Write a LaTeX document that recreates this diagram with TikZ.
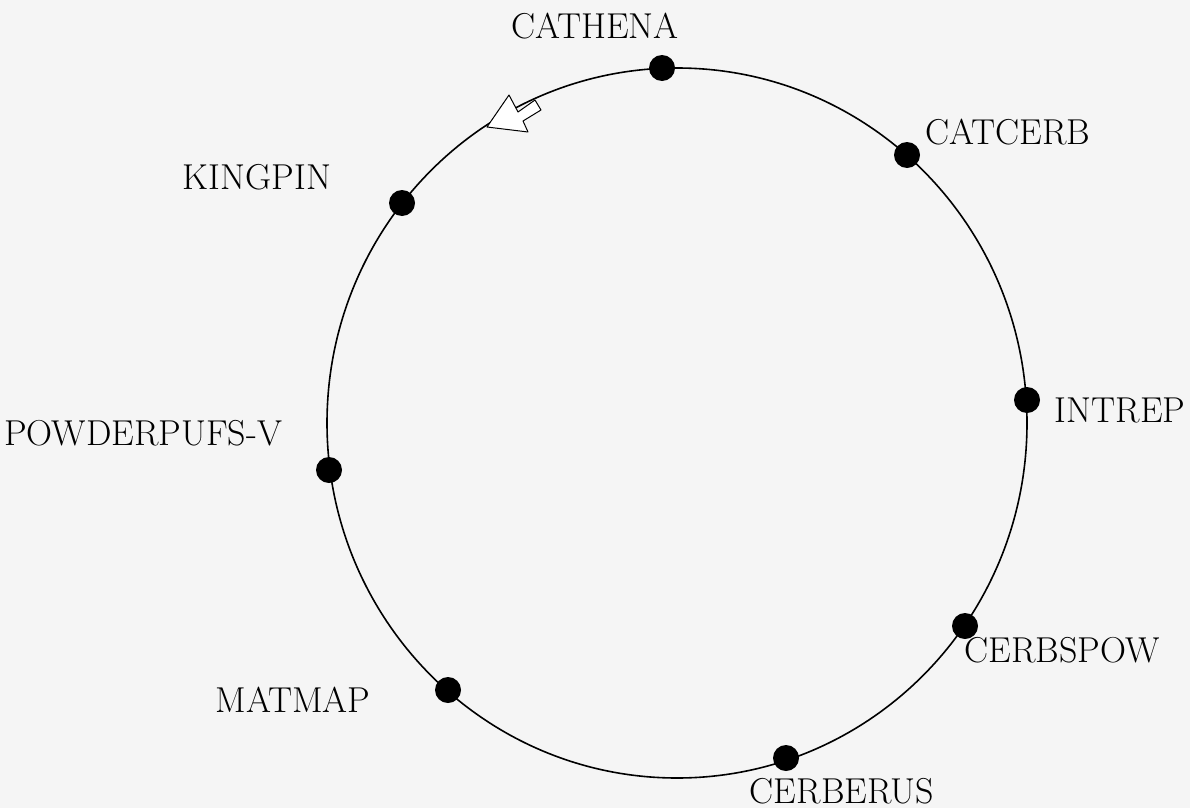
\documentclass[tikz,border=0pt]{standalone}
\usepackage{tikz}
\usetikzlibrary{positioning}
\definecolor{paper}{RGB}{245,245,245}

\begin{document}
\begin{tikzpicture}[x=1pt,y=-1pt,
  every node/.style={font=\fontsize{36}{42}\selectfont},
  host/.style={circle,fill=black,inner sep=0pt,minimum size=26pt}]
\useasboundingbox[fill=paper] (0,0) rectangle (1190,808);
% the ring
\draw[line width=1.6pt] (677,423) ellipse [x radius=350pt, y radius=355pt];
% machines on the ring
\foreach \n/\x/\y in {cathena/662/68,catcerb/907/155,intrep/1027/400,cerbspow/965/626,
  cerberus/786/758,matmap/448/690,powder/329/470,kingpin/402/203}{
  \node[host] (\n) at (\x,\y) {};
}
% names
\node (lcathena) at (595,26) {CATHENA};
\node (lcatcerb) at (1008,132) {CATCERB};
\node (lintrep) at (1120,410) {INTREP};
\node (lcerbspow) at (1062,650) {CERBSPOW};
\node (lcerberus) at (842,791) {CERBERUS};
\node (lmatmap) at (293,700) {MATMAP};
\node (lpowder) at (143,433) {POWDERPUFS-V};
\node (lkingpin) at (257,177) {KINGPIN};
% direction of the token
\draw[line width=1pt,fill=white,line join=round]
  (487,127) -- (509,95) -- (518,112) -- (535,100) -- (541,110)
  -- (523,121) -- (528,132) -- cycle;
\end{tikzpicture}
\end{document}
